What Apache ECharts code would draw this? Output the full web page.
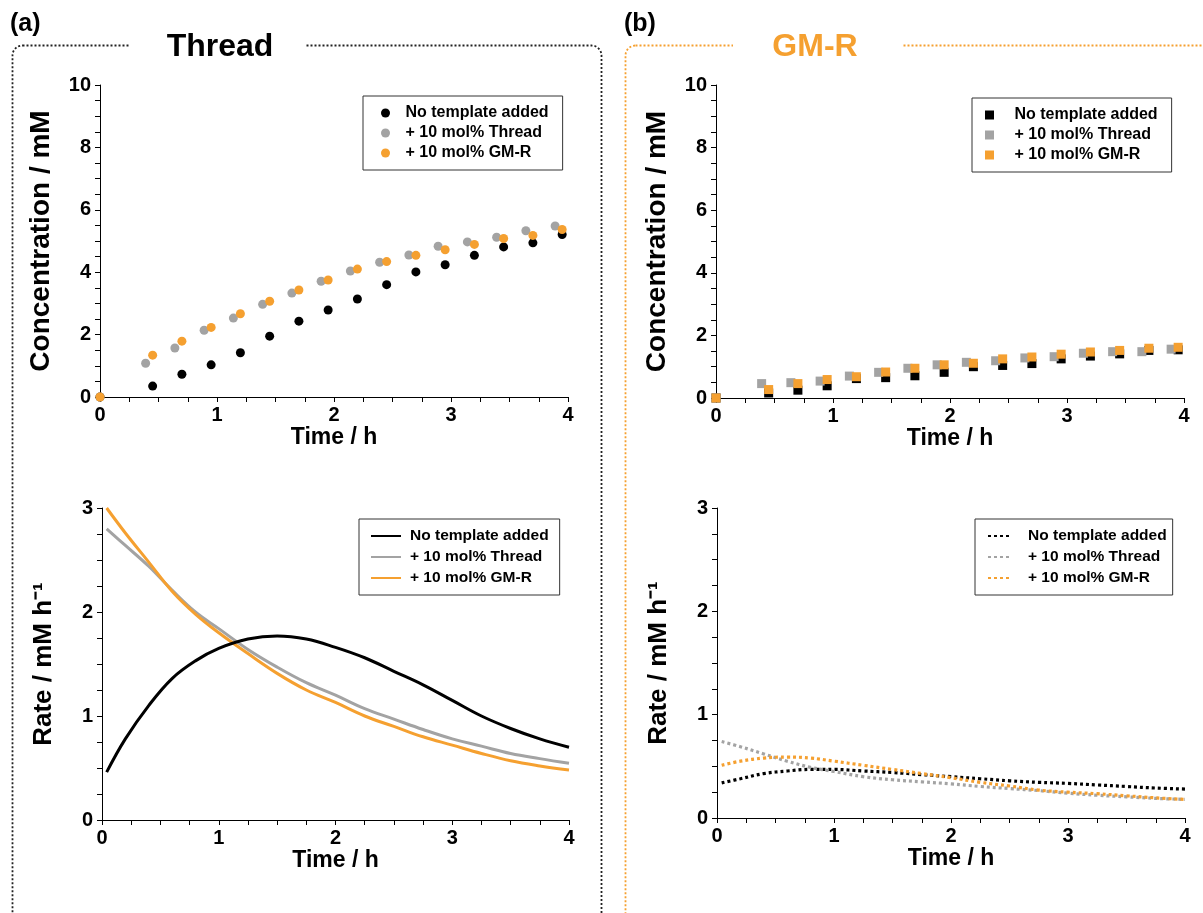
<!DOCTYPE html>
<html>
<head>
<meta charset="utf-8">
<script src="https://cdn.jsdelivr.net/npm/echarts@6/dist/echarts.min.js"></script>
<style>html,body{margin:0;padding:0;background:#fff;}#c{width:1203px;height:913px;}</style>
</head>
<body>
<div id="c"></div>
<script>
// ---------- data ----------
const seriesNames = ['No template added', '+ 10 mol% Thread', '+ 10 mol% GM-R'];
const xTicks = [0, 1, 2, 3, 4];
// sampling times (h) for concentration points
const timeNone = [0, 0.45, 0.70, 0.95, 1.20, 1.45, 1.70, 1.95, 2.20, 2.45, 2.70, 2.95, 3.20, 3.45, 3.70, 3.95];
const timeThread = [0, 0.39, 0.64, 0.89, 1.14, 1.39, 1.64, 1.89, 2.14, 2.39, 2.64, 2.89, 3.14, 3.39, 3.64, 3.89];
const timeGMR = [0, 0.45, 0.70, 0.95, 1.20, 1.45, 1.70, 1.95, 2.20, 2.45, 2.70, 2.95, 3.20, 3.45, 3.70, 3.95];
// (a) Thread concentrations (mM)
const concA_none = [0, 0.35, 0.73, 1.03, 1.42, 1.95, 2.43, 2.79, 3.14, 3.60, 4.01, 4.24, 4.54, 4.81, 4.94, 5.21];
const concA_thread = [0, 1.08, 1.57, 2.14, 2.53, 2.97, 3.33, 3.71, 4.04, 4.32, 4.55, 4.83, 4.97, 5.12, 5.33, 5.48];
const concA_gmr = [0, 1.34, 1.79, 2.23, 2.67, 3.07, 3.43, 3.75, 4.10, 4.34, 4.54, 4.72, 4.89, 5.08, 5.18, 5.37];
// (b) GM-R concentrations (mM)
const concB_none = [0, 0.16, 0.25, 0.39, 0.62, 0.65, 0.71, 0.82, 1.00, 1.04, 1.10, 1.25, 1.34, 1.41, 1.52, 1.54];
const concB_thread = [0, 0.46, 0.49, 0.54, 0.70, 0.82, 0.95, 1.06, 1.14, 1.19, 1.28, 1.32, 1.43, 1.48, 1.48, 1.56];
const concB_gmr = [0, 0.27, 0.46, 0.59, 0.68, 0.83, 0.95, 1.06, 1.11, 1.25, 1.31, 1.40, 1.47, 1.52, 1.59, 1.62];
// rate curves (mM h^-1)
const rateTime = [0.04, 0.2, 0.4, 0.6, 0.8, 1.0, 1.25, 1.5, 1.75, 2.0, 2.25, 2.5, 2.75, 3.0, 3.25, 3.5, 3.75, 4.0];
const rateA_none = [0.46, 0.78, 1.10, 1.36, 1.53, 1.65, 1.74, 1.77, 1.74, 1.66, 1.56, 1.43, 1.30, 1.15, 1.00, 0.88, 0.78, 0.70];
const rateA_thread = [2.80, 2.64, 2.44, 2.21, 2.00, 1.84, 1.64, 1.47, 1.32, 1.20, 1.07, 0.97, 0.87, 0.78, 0.71, 0.64, 0.59, 0.545];
const rateA_gmr = [3.00, 2.76, 2.48, 2.20, 1.98, 1.80, 1.60, 1.41, 1.25, 1.13, 1.00, 0.90, 0.80, 0.72, 0.64, 0.57, 0.52, 0.48];
const rateB_none = [0.34, 0.38, 0.43, 0.455, 0.47, 0.47, 0.455, 0.44, 0.42, 0.40, 0.38, 0.36, 0.345, 0.335, 0.32, 0.305, 0.29, 0.28];
const rateB_thread = [0.74, 0.69, 0.62, 0.55, 0.49, 0.45, 0.40, 0.37, 0.35, 0.33, 0.305, 0.285, 0.265, 0.24, 0.22, 0.205, 0.19, 0.18];
const rateB_gmr = [0.51, 0.55, 0.58, 0.59, 0.58, 0.55, 0.51, 0.47, 0.43, 0.39, 0.345, 0.31, 0.27, 0.25, 0.235, 0.215, 0.195, 0.18];

// ---------- styling ----------
const FONT = "'Liberation Sans', Arial, Helvetica, sans-serif";
const BLACK = '#000000', GRAY = '#A3A3A3', ORANGE = '#F5A030';
const colors = [BLACK, GRAY, ORANGE];
const zip = (xs, ys) => xs.map((x, i) => [x, ys[i]]);
const sfx = ['', ' ', '  ', '   ']; // make legend names unique per panel

function xAxis(gridIndex, gap) {
  return {
    type: 'value', gridIndex, min: 0, max: 4, interval: 1,
    name: 'Time / h', nameLocation: 'middle', nameGap: gap,
    nameTextStyle: {fontFamily: FONT, fontSize: 23, fontWeight: 'bold', color: '#000'},
    axisLine: {show: true, onZero: false, lineStyle: {color: '#000', width: 1}},
    axisTick: {show: true, length: 5, lineStyle: {color: '#000'}},
    minorTick: {show: true, splitNumber: 4, length: 5, lineStyle: {color: '#000'}},
    splitLine: {show: false},
    axisLabel: {fontFamily: FONT, fontSize: 20, fontWeight: 'bold', color: '#000', margin: 8,
      formatter: v => xTicks.includes(v) ? String(v) : ''}
  };
}
function yAxis(gridIndex, max, interval, name, nameSize) {
  return {
    type: 'value', gridIndex, min: 0, max, interval,
    name, nameLocation: 'middle', nameGap: 45, nameRotate: 90,
    nameTextStyle: {fontFamily: FONT, fontSize: nameSize, fontWeight: 'bold', color: '#000'},
    axisLine: {show: true, onZero: false, lineStyle: {color: '#000', width: 1}},
    axisTick: {show: true, length: 5, lineStyle: {color: '#000'}},
    minorTick: {show: true, splitNumber: 4, length: 5, lineStyle: {color: '#000'}},
    splitLine: {show: false},
    axisLabel: {fontFamily: FONT, fontSize: 20, fontWeight: 'bold', color: '#000', margin: 9}
  };
}
function legend(panel, cfg) {
  const l = {
    orient: 'vertical', left: cfg.left, top: cfg.top, padding: cfg.pad, itemGap: cfg.gap,
    itemWidth: cfg.w, itemHeight: cfg.h,
    borderColor: '#333', borderWidth: 1, backgroundColor: '#fff',
    data: seriesNames.map(n => cfg.icon ? {name: n + sfx[panel], icon: cfg.icon} : n + sfx[panel]),
    formatter: n => n.replace(/\s+$/, ''),
    textStyle: {fontFamily: FONT, fontSize: cfg.fs, fontWeight: 'bold', color: '#000', padding: [0, 0, 0, cfg.tp]},
    selectedMode: false
  };
  if (cfg.hideSymbol) l.itemStyle = {opacity: 0};
  return l;
}

const series = [];
const concA = [[timeNone, concA_none], [timeThread, concA_thread], [timeGMR, concA_gmr]];
const concB = [[timeNone, concB_none], [timeThread, concB_thread], [timeGMR, concB_gmr]];
concA.forEach((d, i) => series.push({
  type: 'scatter', name: seriesNames[i] + sfx[0], xAxisIndex: 0, yAxisIndex: 0,
  symbol: 'circle', symbolSize: 9, itemStyle: {color: colors[i], opacity: 1},
  data: zip(d[0], d[1]), z: 2 + i
}));
concB.forEach((d, i) => series.push({
  type: 'scatter', name: seriesNames[i] + sfx[1], xAxisIndex: 1, yAxisIndex: 1,
  symbol: 'rect', symbolSize: 9, itemStyle: {color: colors[i], opacity: 1},
  data: zip(d[0], d[1]), z: 2 + i
}));
[rateA_none, rateA_thread, rateA_gmr].forEach((d, i) => series.push({
  type: 'line', name: seriesNames[i] + sfx[2], xAxisIndex: 2, yAxisIndex: 2,
  symbol: 'none', showSymbol: false, smooth: 0.4, color: colors[i],
  lineStyle: {color: colors[i], width: 3},
  data: zip(rateTime, d), z: 2 + (i === 0 ? 3 : i)
}));
[rateB_none, rateB_thread, rateB_gmr].forEach((d, i) => series.push({
  type: 'line', name: seriesNames[i] + sfx[3], xAxisIndex: 3, yAxisIndex: 3,
  symbol: 'none', showSymbol: false, smooth: 0.4, color: colors[i],
  lineStyle: {color: colors[i], width: 3.2, type: [3, 3]},
  data: zip(rateTime, d), z: 2 + i
}));

const SQUARE = 'path://M0 0H10V10H0Z';
const option = {
  animation: false,
  backgroundColor: '#fff',
  textStyle: {fontFamily: FONT},
  grid: [
    {left: 100, top: 85, width: 468, height: 312},
    {left: 716, top: 85, width: 468, height: 313},
    {left: 102, top: 508, width: 467, height: 312},
    {left: 717, top: 508, width: 468, height: 310}
  ],
  xAxis: [xAxis(0, 16), xAxis(1, 16), xAxis(2, 26), xAxis(3, 26)],
  yAxis: [
    yAxis(0, 10, 2, 'Concentration / mM', 28),
    yAxis(1, 10, 2, 'Concentration / mM', 28),
    yAxis(2, 3, 1, 'Rate / mM h\u207B\u00B9', 26),
    yAxis(3, 3, 1, 'Rate / mM h\u207B\u00B9', 26)
  ],
  legend: [
    legend(0, {left: 363, top: 96, pad: [9, 14, 9, 18], gap: 4, w: 20, h: 9, fs: 16, tp: 5}),
    legend(1, {left: 972, top: 98, pad: [9, 14, 9, 13], gap: 4, w: 28, h: 9, fs: 16, tp: 6, icon: SQUARE}),
    legend(2, {left: 359, top: 519, pad: [9, 11, 9, 11], gap: 5, w: 30, h: 10, fs: 15.5, tp: 4, hideSymbol: true}),
    legend(3, {left: 975, top: 519, pad: [9, 6, 9, 12], gap: 5, w: 23, h: 10, fs: 15.5, tp: 12, hideSymbol: true})
  ],
  graphic: [
    {type: 'rect', shape: {x: 12.5, y: 45.5, width: 589, height: 1000, r: 10},
      style: {fill: 'none', stroke: '#222', lineWidth: 1.8, lineDash: [2, 2]}},
    {type: 'rect', shape: {x: 130, y: 36, width: 175, height: 20}, style: {fill: '#fff'}},
    {type: 'text', x: 220, y: 47, style: {text: 'Thread', fill: '#000', font: 'bold 32px ' + FONT, textAlign: 'center', textVerticalAlign: 'middle'}},
    {type: 'text', x: 10, y: 24, style: {text: '(a)', fill: '#000', font: 'bold 25px ' + FONT, textAlign: 'left', textVerticalAlign: 'middle'}},
    {type: 'rect', shape: {x: 625.5, y: 45.5, width: 700, height: 1000, r: 10},
      style: {fill: 'none', stroke: ORANGE, lineWidth: 1.8, lineDash: [2, 2]}},
    {type: 'rect', shape: {x: 733, y: 36, width: 170, height: 20}, style: {fill: '#fff'}},
    {type: 'text', x: 815, y: 47, style: {text: 'GM-R', fill: ORANGE, font: 'bold 32px ' + FONT, textAlign: 'center', textVerticalAlign: 'middle'}},
    {type: 'text', x: 624, y: 24, style: {text: '(b)', fill: '#000', font: 'bold 25px ' + FONT, textAlign: 'left', textVerticalAlign: 'middle'}}
  ],
  series
};
const chart = echarts.init(document.getElementById('c'), null, {renderer: 'canvas'});
chart.setOption(option);
</script>
</body>
</html>
